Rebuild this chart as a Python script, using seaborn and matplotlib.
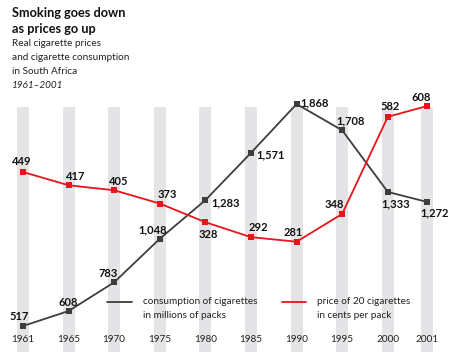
import matplotlib
matplotlib.use("Agg")
import matplotlib.pyplot as plt
from matplotlib.lines import Line2D
import seaborn as sns
import pandas as pd

# ---- data ----
years = ["1961", "1965", "1970", "1975", "1980", "1985", "1990", "1995", "2000", "2001"]
consumption = [517, 608, 783, 1048, 1283, 1571, 1868, 1708, 1333, 1272]
price = [449, 417, 405, 373, 328, 292, 281, 348, 582, 608]

sns.set_theme(style="white")
FONT = "Lato"
plt.rcParams["font.family"] = [FONT, "DejaVu Sans"]

GREY = "#3d3d3d"
RED = "#e8141c"
STRIPE = "#e4e4e7"

# x positions (2001 sits closer to 2000)
xpos = list(range(len(years) - 1)) + [len(years) - 2 + 0.86]
df = pd.DataFrame({"x": xpos, "year": years, "consumption": consumption, "price": price})

fig = plt.figure(figsize=(4.5, 3.64), dpi=100)
ax = fig.add_axes([0, 0, 1, 1])
ax2 = ax.twinx()
for a in (ax, ax2):
    a.set_facecolor("none")
    for s in a.spines.values():
        s.set_visible(False)
ax.set_xlim(-0.504, 9.364)
ax2.set_xlim(-0.504, 9.364)
ax.set_ylim(285.7, 2501)
ax2.set_ylim(-13.7, 863.5)

# stripes
for x in xpos:
    ax.axvspan(x - 0.13, x + 0.13, ymin=1 - 352 / 364, ymax=1 - 107 / 364,
               color=STRIPE, lw=0, zorder=0)

sns.lineplot(data=df, x="x", y="consumption", ax=ax, color=GREY, lw=1.3,
             marker="s", markersize=4.5, markeredgewidth=0, zorder=3)
sns.lineplot(data=df, x="x", y="price", ax=ax2, color=RED, lw=1.3,
             marker="s", markersize=4.5, markeredgewidth=0, zorder=3)
for a in (ax, ax2):
    a.set_xlabel(""); a.set_ylabel(""); a.set_xticks([]); a.set_yticks([])

# label offsets (pixels, dx, dy-up, ha)
c_off = [(-4, 9, "center"), (0, 9, "center"), (-6, 9, "center"), (-7, 9, "center"),
         (6, -3, "left"), (5, -2, "left"), (4, 1, "left"), (8, 9, "center"),
         (8, -12, "center"), (8, -11, "center")]
p_off = [(-1, 10, "center"), (7, 9, "center"), (4, 9, "center"), (7, 9, "center"),
         (3, -12, "center"), (7, 10, "center"), (-3, 9, "center"), (-8, 9, "center"),
         (2, 10, "center"), (-6, 9, "center")]
LBL = dict(fontsize=8, fontweight="bold", color="#111111", va="center", zorder=5)
for x, v, (dx, dy, ha) in zip(xpos, consumption, c_off):
    ax.annotate(f"{v:,}", (x, v), xytext=(dx, dy), textcoords="offset pixels", ha=ha, **LBL)
for x, v, (dx, dy, ha) in zip(xpos, price, p_off):
    ax2.annotate(f"{v:,}", (x, v), xytext=(dx, dy), textcoords="offset pixels", ha=ha, **LBL)

# year labels
trans = ax.get_xaxis_transform()
for x, y in zip(xpos, years):
    ax.text(x, 1 - 339 / 364, y, transform=trans, ha="center", va="center",
            fontsize=7.2, color="#222222", zorder=5)

def fx(px):
    return px / 450

def fy(py):
    return 1 - py / 364

TXT = dict(ha="left", va="center", fontsize=7.2, color="#222222")
# legend
fig.add_artist(Line2D([fx(107), fx(132)], [fy(302), fy(302)], color=GREY, lw=1.3))
fig.text(fx(143), fy(302), "consumption of cigarettes", **TXT)
fig.text(fx(143), fy(315), "in millions of packs", **TXT)
fig.add_artist(Line2D([fx(282), fx(306)], [fy(302), fy(302)], color=RED, lw=1.3))
fig.text(fx(317), fy(302), "price of 20 cigarettes", **TXT)
fig.text(fx(317), fy(315), "in cents per pack", **TXT)

# titles
fig.text(fx(12), fy(13), "Smoking goes down", ha="left", va="center", fontsize=9.2, fontweight="bold", color="#111111")
fig.text(fx(12), fy(29), "as prices go up", ha="left", va="center", fontsize=9.2, fontweight="bold", color="#111111")
for i, line in enumerate(["Real cigarette prices", "and cigarette consumption", "in South Africa"]):
    fig.text(fx(12), fy(44 + 14 * i), line, **TXT)
fig.text(fx(12), fy(86), "1961–2001", style="italic", **TXT)

fig.savefig("out.png", dpi=100, facecolor="white")
